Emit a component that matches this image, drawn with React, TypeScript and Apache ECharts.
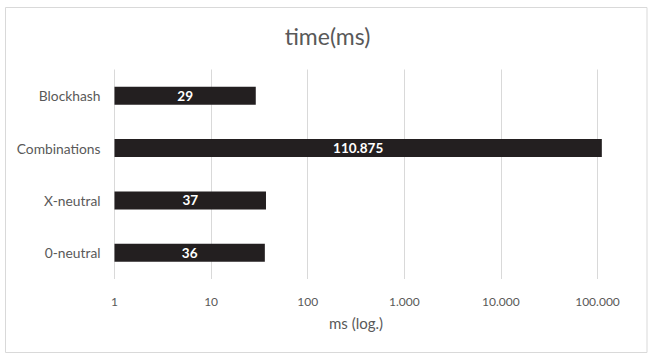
import React, { useEffect, useRef } from "react";
import * as echarts from "echarts";

const categories: string[] = ["Blockhash", "Combinations", "X-neutral", "0-neutral"];
const times: number[] = [29, 110875, 37, 36];
const titleText = "time(ms)";
const axisName = "ms (log.)";

const fmt = (v: number): string =>
  String(Math.round(v)).replace(/\B(?=(\d{3})+(?!\d))/g, ".");

const FONT = "Lato, 'Open Sans', sans-serif";
const GREY = "#595959";

export default function App() {
  const ref = useRef<HTMLDivElement>(null);
  useEffect(() => {
    if (!ref.current) return;
    const chart = echarts.init(ref.current, null, { renderer: "svg" });
    chart.setOption({
      animation: false,
      backgroundColor: "#ffffff",
      textStyle: { fontFamily: FONT },
      title: {
        text: titleText,
        left: "center",
        top: 19,
        textStyle: { fontFamily: FONT, fontSize: 23, fontWeight: "normal", color: GREY },
      },
      graphic: [
        {
          type: "rect",
          shape: { x: 5.5, y: 7.5, width: 641.5, height: 345 },
          style: { fill: "none", stroke: "#d9d9d9", lineWidth: 1 },
          silent: true,
          z: -1,
        },
      ],
      grid: { left: 114.5, right: 57.5, top: 69.5, bottom: 82, containLabel: false },
      xAxis: {
        type: "log",
        logBase: 10,
        min: 1,
        max: 100000,
        name: axisName,
        nameLocation: "middle",
        nameGap: 36,
        nameTextStyle: { fontFamily: FONT, fontSize: 15, color: GREY },
        axisLine: { show: false },
        axisTick: { show: false },
        axisLabel: {
          margin: 16,
          fontFamily: FONT,
          fontSize: 12,
          color: GREY,
          formatter: (v: number) => fmt(v),
        },
        splitLine: { show: true, lineStyle: { color: "#d9d9d9", width: 1 } },
      },
      yAxis: {
        type: "category",
        data: categories,
        inverse: true,
        axisLine: { show: false },
        axisTick: { show: false },
        axisLabel: { margin: 14, fontFamily: FONT, fontSize: 13.8, color: GREY },
        splitLine: { show: false },
      },
      series: [
        {
          type: "bar",
          data: times,
          barWidth: 18,
          clip: false,
          itemStyle: { color: "#231f20" },
          label: {
            show: true,
            position: "inside",
            color: "#ffffff",
            fontFamily: FONT,
            fontWeight: "bold",
            fontSize: 13.5,
            formatter: (p: any) => fmt(p.value),
          },
        },
      ],
    });
    return () => chart.dispose();
  }, []);
  return (
    <div
      ref={ref}
      style={{ position: "fixed", left: 0, top: 0, width: 655, height: 361 }}
    />
  );
}
